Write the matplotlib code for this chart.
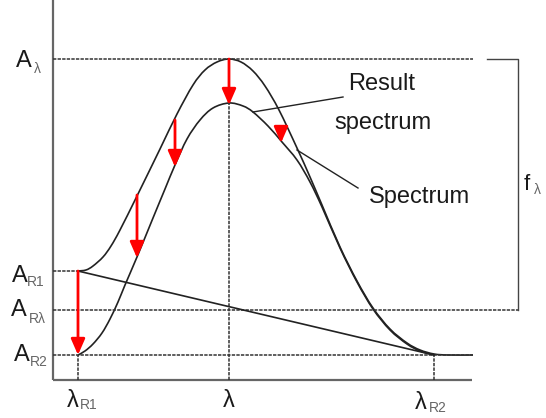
import matplotlib
matplotlib.use("Agg")
import matplotlib.pyplot as plt
from matplotlib.path import Path
from matplotlib.patches import PathPatch

# Wavelength axis (arbitrary units) and absorbance levels (arbitrary units)
lam_r1, lam_peak, lam_r2 = 25, 176, 381
a_peak, a_r1, a_rlam, a_r2 = 321, 109, 70, 25

# Measured spectrum
spec_x = [25, 33, 40, 50, 58, 67, 84, 107, 124, 140, 152, 164, 176, 188, 200,
          212, 226, 244, 257, 269, 287, 304, 320, 337, 354, 367, 381, 395, 420]
spec_y = [109, 110, 114, 123, 134, 150, 184, 231, 266, 295, 310, 318, 321, 318, 309,
          294, 270, 232, 203, 175, 133, 99, 72, 51, 37, 30, 26, 25, 25]

# Baseline-corrected (result) spectrum
res_x = [25, 32, 40, 49, 57, 65, 72, 84, 100, 112, 122, 134, 147, 160, 176, 190,
         200, 215, 229, 244, 257, 269, 287, 304, 320, 337, 354, 367, 381]
res_y = [25, 29, 36, 47, 61, 78, 95, 123, 162, 191, 215, 241, 260, 272, 277, 274,
         268, 254, 238, 220, 198, 173, 132, 98, 71, 50, 36, 29, 25]

# Correction arrows: position, start level, end level
arrow_x = [25, 84, 122, 176, 228]
arrow_from = [109, 185, 260, 321, 253]
arrow_to = [25, 122, 213, 275, 237]


def smooth_path(xs, ys):
    """Catmull-Rom curve through the given points, as a cubic Bezier path."""
    pts = list(zip(xs, ys))
    ext = [pts[0]] + pts + [pts[-1]]
    verts = [pts[0]]
    codes = [Path.MOVETO]
    for i in range(1, len(ext) - 2):
        p0, p1, p2, p3 = ext[i - 1], ext[i], ext[i + 1], ext[i + 2]
        c1 = (p1[0] + (p2[0] - p0[0]) / 6, p1[1] + (p2[1] - p0[1]) / 6)
        c2 = (p2[0] - (p3[0] - p1[0]) / 6, p2[1] - (p3[1] - p1[1]) / 6)
        verts += [c1, c2, p2]
        codes += [Path.CURVE4] * 3
    return Path(verts, codes)


fig = plt.figure(figsize=(5.46, 4.18), dpi=100)
ax = fig.add_axes([0, 0, 1, 1])
ax.set_xlim(-53, 493)
ax.set_ylim(-38, 380)
ax.axis("off")

axis_kw = dict(color="#666666", lw=1.6, solid_capstyle="butt")
guide_kw = dict(color="#333333", lw=1.1, linestyle=(0, (2.2, 0.8)))
curve_kw = dict(color="#222222", lw=1.2)

# axes
ax.plot([0, 0], [0, 380], **axis_kw)
ax.plot([0, 419], [0, 0], **axis_kw)

# reference levels
ax.plot([0, 420], [a_peak, a_peak], **guide_kw)
ax.plot([0, lam_r1], [a_r1, a_r1], **guide_kw)
ax.plot([0, 465], [a_rlam, a_rlam], **guide_kw)
ax.plot([0, 420], [a_r2, a_r2], **guide_kw)
ax.plot([lam_peak, lam_peak], [0, a_peak], **guide_kw)
ax.plot([lam_r1, lam_r1], [0, a_r2], **guide_kw)
ax.plot([lam_r2, lam_r2], [0, a_r2], **guide_kw)

# bracket for f_lambda
ax.plot([434, 465, 465], [a_peak, a_peak, a_rlam], color="#444444", lw=1.0)

# baseline between reference points
ax.plot([lam_r1, lam_r2], [a_r1, a_r2], **curve_kw)

# spectra
for xs, ys in ((spec_x, spec_y), (res_x, res_y)):
    ax.add_patch(PathPatch(smooth_path(xs, ys), fill=False,
                           edgecolor=curve_kw["color"], lw=curve_kw["lw"]))

# leader lines
ax.plot([200, 290], [268, 283], color="#222222", lw=1.0)
ax.plot([244, 305], [230, 192], color="#222222", lw=1.0)

# correction arrows
for x, y0, y1 in zip(arrow_x, arrow_from, arrow_to):
    ax.annotate("", xy=(x, y1), xytext=(x, y0),
                arrowprops=dict(arrowstyle="-|>,head_length=0.8,head_width=0.35",
                                color="#ff0000", lw=2.0, mutation_scale=12,
                                shrinkA=0, shrinkB=0))

font = "Liberation Sans"
main_kw = dict(family=font, fontsize=17, color="#1a1a1a", ha="center", va="center")
sub_kw = dict(family=font, fontsize=10, color="#666666", ha="center", va="center")


def label(xm, ym, main, xs, ys, sub, main_size=17, sub_size=10):
    ax.text(xm, ym, main, **{**main_kw, "fontsize": main_size})
    ax.text(xs, ys, sub, **{**sub_kw, "fontsize": sub_size})


label(-29.5, 319, "A", -16, 311, "λ", 17, 10)
label(-33, 104, "A", -17.5, 98, "R1")
label(-34.5, 70, "A", -15.5, 61, "Rλ")
label(-31.5, 25, "A", -14.5, 18, "R2")
label(19.5, -21, "λ", 35.5, -25, "R1")
ax.text(176, -21, "λ", **main_kw)
label(367.5, -23, "λ", 385, -28, "R2")
label(474, 196, "f", 484, 190, "λ", 16, 10)

ax.text(329, 296, "Result", **main_kw)
ax.text(330, 257, "spectrum", **main_kw)
ax.text(366, 183, "Spectrum", **main_kw)

fig.savefig("out.png", dpi=100)
